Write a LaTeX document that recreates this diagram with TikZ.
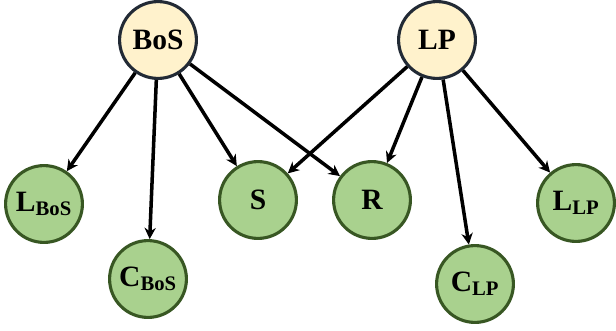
\documentclass[tikz,border=0pt]{standalone}
\usepackage{fontspec}
\setmainfont{Liberation Serif}
\usetikzlibrary{arrows.meta}
\definecolor{topfill}{HTML}{FFF2CC}
\definecolor{topdraw}{HTML}{222A35}
\definecolor{leaffill}{HTML}{A9D18E}
\definecolor{leafdraw}{HTML}{385723}

\begin{document}
\begin{tikzpicture}[->, >={Stealth[length=8pt,width=8pt]}, x=0.025cm, y=-0.025cm,
  main node/.style={circle, draw=topdraw, fill=topfill, line width=2.2pt, minimum size=1.92cm, inner sep=0pt, font=\fontsize{21}{24}\selectfont\bfseries},
  leaf node/.style={main node, draw=leafdraw, fill=leaffill}]
           \useasboundingbox (0,0) rectangle (616,330);

             \node[main node] (1) at (158,40) {BoS};
             \node[main node] (2) at (437,40) {LP};
             \node[leaf node] (3) at (44,204) {L\textsubscript{BoS}};
             \node[leaf node] (4) at (148,279) {C\textsubscript{BoS}};
             \node[leaf node] (5) at (258,200) {S};
             \node[leaf node] (6) at (372,200) {R};
             \node[leaf node] (7) at (475,284) {C\textsubscript{LP}};
             \node[leaf node] (8) at (576,203) {L\textsubscript{LP}};

             \path[every edge/.style={draw, line width=2.5pt}]
               (1) edge (3)
                   edge (4)
                   edge (5)
                   edge (6)
               (2) edge (5)
                   edge (6)
                   edge (7)
                   edge (8);

\end{tikzpicture}
\end{document}
